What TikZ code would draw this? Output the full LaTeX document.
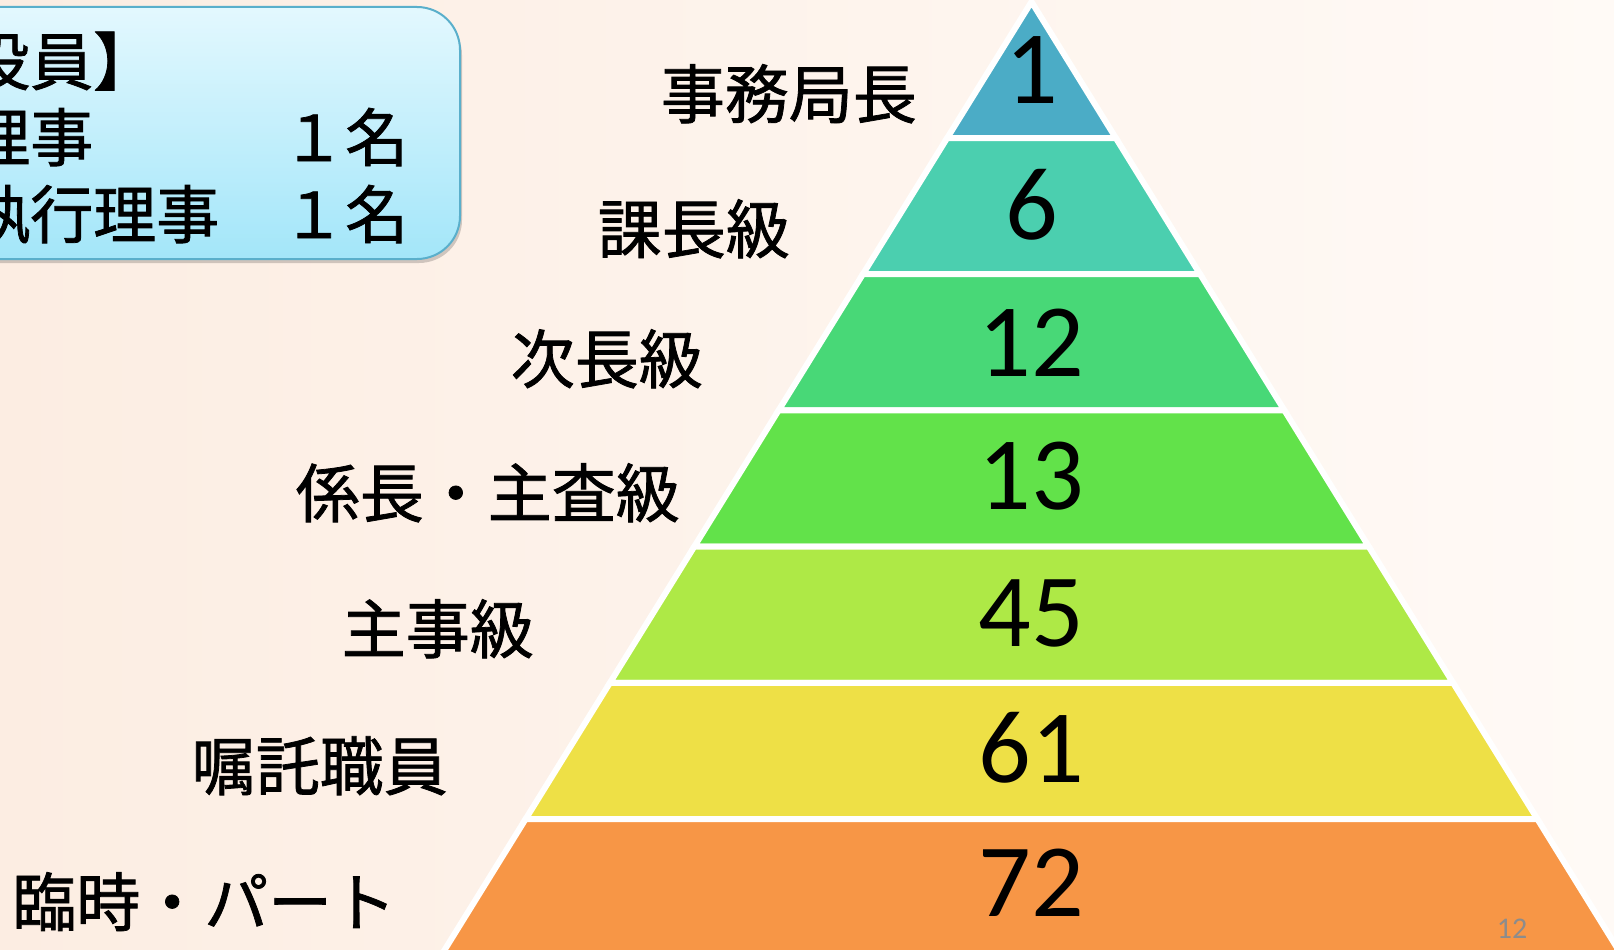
\documentclass[tikz,border=0pt]{standalone}
\usepackage{fontspec}
\newfontfamily\jp[FakeBold=1.2]{Noto Sans CJK JP}
\newfontfamily\num{Carlito}
\definecolor{bgL}{HTML}{FCEDE2}
\definecolor{bgR}{HTML}{FFFAF6}
\definecolor{boxT}{HTML}{E3F8FE}
\definecolor{boxB}{HTML}{A3E6F9}
\definecolor{boxE}{HTML}{5AAFCB}
\definecolor{cA}{HTML}{4BACC6}
\definecolor{cB}{HTML}{4BCFAF}
\definecolor{cC}{HTML}{48D877}
\definecolor{cD}{HTML}{62E24A}
\definecolor{cE}{HTML}{AEE946}
\definecolor{cF}{HTML}{EEE046}
\definecolor{cG}{HTML}{F79646}
\definecolor{pgnum}{HTML}{8C8C8C}
\begin{document}
\begin{tikzpicture}[x=1pt,y=-1pt,
  lbl/.style={anchor=base east, inner sep=0pt, font=\jp\fontsize{64}{70}\selectfont},
  boxtxt/.style={anchor=base west, inner sep=0pt, font=\jp\fontsize{63}{70}\selectfont},
  numlbl/.style={anchor=base, inner sep=0pt, font=\num\fontsize{104}{110}\selectfont},
  layer/.style={draw=white, line width=6pt, line join=miter}]
\useasboundingbox (0,0) rectangle (1614,950);
\clip (0,0) rectangle (1614,950);
\shade[left color=bgL, right color=bgR] (0,0) rectangle (1614,950);
% info box
\fill[black, opacity=0.18, rounded corners=43pt] (-57,12) rectangle (462,263);
\shadedraw[top color=boxT, bottom color=boxB, draw=boxE, line width=2pt, rounded corners=43pt] (-60,7) rectangle (460,259);
\node[boxtxt] (r1) at (-96,85) {【役員】};
\node[boxtxt] (r2) at (-96,161) {　理事　　　１名};
\node[boxtxt] (r3) at (-96,238) {　執行理事　１名};
% pyramid
\def\cx{1031.5}
\def\ap{1.8}
\def\hh{136.2}
\def\ss{84.31}
\filldraw[layer, fill=cA] (\cx,\ap) -- ({\cx+\ss},{\ap+\hh}) -- ({\cx-\ss},{\ap+\hh}) -- cycle;
\foreach \i/\c in {1/cB,2/cC,3/cD,4/cE,5/cF,6/cG}{
  \filldraw[layer, fill=\c]
    ({\cx-\i*\ss},{\ap+\i*\hh}) -- ({\cx+\i*\ss},{\ap+\i*\hh}) --
    ({\cx+(\i+1)*\ss},{\ap+(\i+1)*\hh}) -- ({\cx-(\i+1)*\ss},{\ap+(\i+1)*\hh}) -- cycle;
}
% numbers
\node[numlbl] (n1) at (\cx,103) {1};
\node[numlbl] (n2) at (\cx,239) {6};
\node[numlbl] (n3) at (\cx,376) {12};
\node[numlbl] (n4) at (\cx,509) {13};
\node[numlbl] (n5) at (\cx,646) {45};
\node[numlbl] (n6) at (\cx,782) {61};
\node[numlbl] (n7) at (\cx,916) {72};
% labels
\node[lbl] (l1) at (917,118) {事務局長};
\node[lbl] (l2) at (790,253) {課長級};
\node[lbl] (l3) at (703,383) {次長級};
\node[lbl] (l4) at (680,517) {係長・主査級};
\node[lbl] (l5) at (534,653) {主事級};
\node[lbl] (l6) at (448,790) {嘱託職員};
\node[lbl, anchor=base west] (l7) at (12,926) {臨時・パート};
% page number
\node[anchor=base, inner sep=0pt, font=\num\fontsize{30}{34}\selectfont, text=pgnum] (pg) at (1512,938) {12};
\end{tikzpicture}
\end{document}
